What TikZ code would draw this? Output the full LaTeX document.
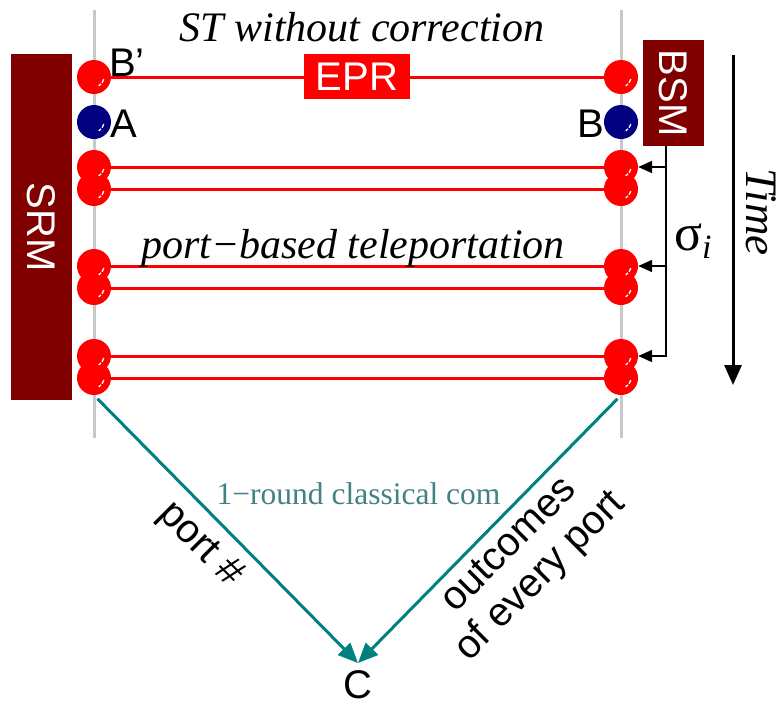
\documentclass[tikz,border=0pt]{standalone}
\usepackage{fontspec}
\setmainfont{Liberation Serif}
\setsansfont{Liberation Sans}
\usetikzlibrary{arrows.meta}

\definecolor{srmred}{RGB}{128,0,0}
\definecolor{qubitblue}{RGB}{0,0,128}
\definecolor{comteal}{RGB}{0,128,128}
\definecolor{comtext}{RGB}{66,130,128}
\definecolor{wiregray}{RGB}{200,200,200}

\tikzset{
  qubit/.style={circle, fill=#1, minimum size=34pt, inner sep=0pt,
    path picture={\draw[white, line width=1.3pt, dash pattern=on 4pt off 1.6pt]
      ([shift={(-12:10pt)}]path picture bounding box.center)
      arc[start angle=-12, end angle=-62, radius=10pt];}},
  qubit/.default=red,
  wire/.style={wiregray, line width=3pt},
  eprline/.style={red, line width=3pt},
  sansbig/.style={font=\sffamily\fontsize{40}{44}\selectfont},
  whitebox/.style={sansbig, text=white, fill=#1, inner sep=0pt},
  italic/.style={font=\rmfamily\itshape\fontsize{42}{46}\selectfont},
  ctl/.style={black, line width=2pt, -{Triangle[length=14pt, width=12pt]}},
  classical/.style={comteal, line width=3pt, shorten <=5pt,
    -{Triangle[length=20pt, width=17pt]}},
}

\begin{document}
\begin{tikzpicture}[x=1pt, y=-1pt]
  \useasboundingbox (0,0) rectangle (782,702);

  % ports on both sides
  \coordinate (lwtop) at (94,10);
  \coordinate (lwbot) at (94,438);
  \coordinate (rwtop) at (621,10);
  \coordinate (rwbot) at (621,438);
  \draw[wire] (lwtop) -- (lwbot);
  \draw[wire] (rwtop) -- (rwbot);

  % memories
  \node[whitebox=srmred, rotate=-90, minimum width=346pt, minimum height=61pt]
    (srm) at (41.5,227) {SRM};
  \node[whitebox=srmred, rotate=-90, minimum width=106pt, minimum height=61pt]
    (bsm) at (673.5,93) {BSM};

  % standard teleportation qubits
  \node[qubit] (bpl) at (94,77) {};
  \node[qubit] (bpr) at (621,77) {};
  \node[qubit=qubitblue] (a) at (94,122) {};
  \node[qubit=qubitblue] (b) at (621,122) {};
  \draw[eprline] (bpl) -- (bpr);
  \node[whitebox=red, minimum width=106pt, minimum height=45pt] (epr) at (357,76.5) {EPR};

  \node[sansbig, anchor=base west, inner sep=0pt] (lbp) at (109,76) {B’};
  \node[sansbig, anchor=base west, inner sep=0pt] (la) at (110,137) {A};
  \node[sansbig, anchor=base east, inner sep=0pt] (lb) at (604,137) {B};

  % port pairs
  \foreach \i/\ya/\yb in {1/167/189, 2/266/288, 3/356/378} {
    \node[qubit] (p\i lb) at (94,\yb) {};
    \node[qubit] (p\i la) at (94,\ya) {};
    \node[qubit] (p\i rb) at (621,\yb) {};
    \node[qubit] (p\i ra) at (621,\ya) {};
    \draw[eprline] (p\i la) -- (p\i ra);
    \draw[eprline] (p\i lb) -- (p\i rb);
  }

  % titles
  \node[italic] (st) at (362,27) {ST without correction};
  \node[italic] (pbt) at (353,248.5) {port−based teleportation};

  % corrections sent from the Bell measurement
  \coordinate (sigtop) at ([xshift=-7.5pt]bsm.east);
  \draw[ctl] (sigtop) |- (p3ra);
  \draw[ctl] (sigtop |- p1ra) -- (p1ra);
  \draw[ctl] (sigtop |- p2ra) -- (p2ra);
  \node[anchor=base west, inner sep=0pt] (sigma) at (674,250)
    {\fontsize{52}{52}\selectfont σ\fontsize{34}{34}\selectfont\itshape\raisebox{-8pt}{i}};

  % time axis
  \coordinate (t0) at (733,55);
  \coordinate (t1) at (733,385);
  \draw[line width=3pt, -{Triangle[length=20pt, width=17pt]}] (t0) -- (t1);
  \node[font=\rmfamily\itshape\fontsize{45}{50}\selectfont, rotate=-90, anchor=base,
    inner sep=0pt] (time) at (746,212) {Time};

  % classical communication to C
  \node[sansbig, anchor=north, inner sep=0pt] (c) at (358,670) {C};
  \coordinate (cin) at ([yshift=7pt]c.north);
  \draw[classical] (p3lb.south) -- (cin);
  \draw[classical] (p3rb.south) -- (cin);
  \node[font=\rmfamily\fontsize{31.5}{34}\selectfont, text=comtext] (round) at (358.5,494)
    {1−round classical com};
  \node[sansbig, rotate=-45] (port) at (200,545) {port \#};
  \node[sansbig, rotate=45, align=center] (outc) at (526,562) {outcomes\\of every port};
\end{tikzpicture}
\end{document}
